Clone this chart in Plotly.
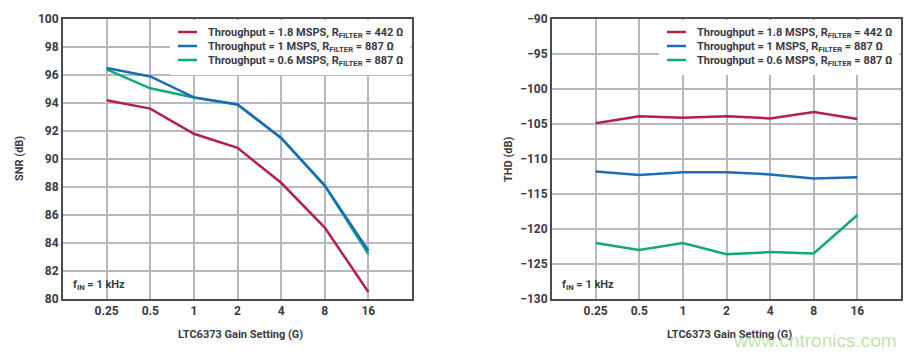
import plotly.graph_objects as go

gains = ["0.25", "0.5", "1", "2", "4", "8", "16"]
series_names = [
    "Throughput = 1.8 MSPS, R<sub>FILTER</sub> = 442 Ω",
    "Throughput = 1 MSPS, R<sub>FILTER</sub> = 887 Ω",
    "Throughput = 0.6 MSPS, R<sub>FILTER</sub> = 887 Ω",
]
colors = ["#b3204c", "#1a6db6", "#12a87c"]

snr_18msps = [94.2, 93.6, 91.8, 90.8, 88.3, 85.1, 80.5]
snr_1msps = [96.5, 95.9, 94.4, 93.9, 91.5, 88.1, 83.45]
snr_06msps = [96.4, 95.05, 94.4, 93.9, 91.5, 88.1, 83.2]

thd_18msps = [-104.9, -103.9, -104.1, -103.9, -104.2, -103.3, -104.3]
thd_1msps = [-111.8, -112.3, -111.9, -111.9, -112.2, -112.8, -112.6]
thd_06msps = [-122.0, -123.0, -122.0, -123.6, -123.3, -123.5, -118.0]

xi = list(range(len(gains)))
FONT = "Roboto"
TXT = "#3a3a44"
W, H = 918, 356


def px(x):
    return x / W


def py(y):
    return 1 - y / H


fig = go.Figure()
snr_sets = [snr_18msps, snr_1msps, snr_06msps]
thd_sets = [thd_18msps, thd_1msps, thd_06msps]
order = [0, 2, 1]  # blue on top of green where they coincide
for i in order:
    fig.add_trace(go.Scatter(x=xi, y=snr_sets[i], mode="lines", name=series_names[i],
                             line=dict(color=colors[i], width=2.5),
                             xaxis="x", yaxis="y", showlegend=False))
for i in order:
    fig.add_trace(go.Scatter(x=xi, y=thd_sets[i], mode="lines", name=series_names[i],
                             line=dict(color=colors[i], width=2.5),
                             xaxis="x2", yaxis="y2", showlegend=False))

l1, r1 = px(63), px(412)
l2, r2 = px(552), px(901)
yb, yt = py(299), py(19)

axis_common = dict(
    showline=True, linecolor="#4b4b55", linewidth=2, mirror=True,
    showgrid=True, gridcolor="#b8b8c0", gridwidth=1.5,
    zeroline=False, ticks="", automargin=False,
    tickfont=dict(family=FONT, size=12, color=TXT, weight="bold"),
)

fig.update_layout(
    width=W, height=H,
    margin=dict(l=0, r=0, t=0, b=0, autoexpand=False),
    paper_bgcolor="white", plot_bgcolor="white",
    font=dict(family=FONT, color=TXT),
    showlegend=False,
    xaxis=dict(domain=[l1, r1], range=[-1, 7], tickmode="array", tickvals=xi, ticktext=gains,
               anchor="y", **axis_common),
    yaxis=dict(domain=[yb, yt], range=[80, 100], dtick=2, anchor="x", **axis_common),
    xaxis2=dict(domain=[l2, r2], range=[-1, 7], tickmode="array", tickvals=xi, ticktext=gains,
                anchor="y2", **axis_common),
    yaxis2=dict(domain=[yb, yt], range=[-130, -90], dtick=5, anchor="x2", **axis_common),
)

ann_font = dict(family=FONT, size=11, color=TXT, weight="bold")
leg_font = dict(family=FONT, size=11, color=TXT, weight="bold")
annotations = []
shapes = []

for off, ytitle in [(0, "SNR (dB)"), (489, "THD (dB)")]:
    annotations.append(dict(text=ytitle, x=px(20 + off), y=(yb + yt) / 2, xref="paper", yref="paper",
                            xanchor="center", yanchor="middle",
                            textangle=-90, showarrow=False, font=ann_font))
    annotations.append(dict(text="LTC6373 Gain Setting (G)", x=px(240 + off), y=py(334),
                            xref="paper", yref="paper", xanchor="center", yanchor="middle",
                            showarrow=False, font=ann_font))
    annotations.append(dict(text="f<sub>IN</sub> = 1 kHz", x=px(71 + off), y=py(285),
                            xref="paper", yref="paper", xanchor="left", yanchor="middle", showarrow=False,
                            font=dict(family=FONT, size=11, color=TXT, weight="bold")))
    # legend box
    shapes.append(dict(type="rect", xref="paper", yref="paper", x0=px(170 + off), x1=px(410.5 + off),
                       y0=py(75), y1=py(20), fillcolor="white", line=dict(width=0), layer="above"))
    for k in range(3):
        yrow = 32 + 14 * k
        shapes.append(dict(type="line", xref="paper", yref="paper", x0=px(178 + off), x1=px(197 + off),
                           y0=py(yrow), y1=py(yrow), line=dict(color=colors[k], width=2.5), layer="above"))
        annotations.append(dict(text=series_names[k], x=px(206 + off), y=py(yrow + 1), xref="paper",
                                yref="paper", xanchor="left", yanchor="middle", showarrow=False,
                                font=leg_font))

annotations.append(dict(text="www.cntronics.com", x=px(899), y=py(340), xref="paper", yref="paper",
                        xanchor="right", yanchor="middle", showarrow=False,
                        font=dict(family="Liberation Sans", size=19, color="rgba(150,205,120,0.6)")))
fig.update_layout(annotations=annotations, shapes=shapes)

fig.write_html("out.html", config={"displayModeBar": False},
               post_script="document.body.style.margin='0';document.body.style.overflow='hidden';")
